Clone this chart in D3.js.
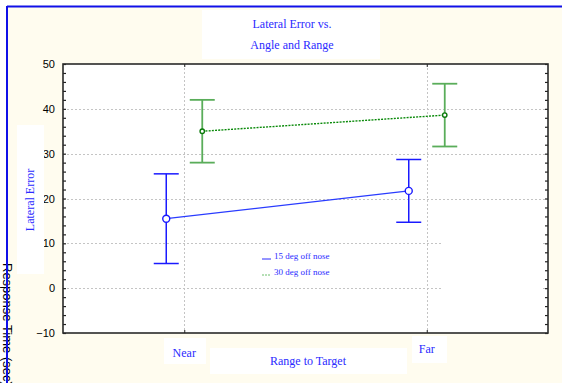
<!DOCTYPE html>
<html>
<head>
<meta charset="utf-8">
<script src="https://cdn.jsdelivr.net/npm/d3@7"></script>
<style>
  html, body { margin: 0; padding: 0; background: #ffffff; }
  svg { display: block; }
</style>
</head>
<body>
<svg id="chart" width="562" height="383"></svg>
<script>
// Range categories and the two angle conditions
const categories = ["Near", "Far"];
const seriesNames = ["15 deg off nose", "30 deg off nose"];
// Mean lateral error per range, and the half-width of each error bar
const means15 = [15.5, 21.7];
const errors15 = [10.0, 7.0];
const means30 = [35.0, 38.6];
const errors30 = [7.0, 7.0];
const yTicks = [-10, 0, 10, 20, 30, 40, 50];

const svg = d3.select("#chart");
const W = 562, H = 383;
const plot = { left: 63, right: 548, top: 64, bottom: 333 };
const serif = "'Liberation Serif', 'Times New Roman', serif";
const sans = "'Liberation Sans', Arial, sans-serif";
const blue = "#2b2bff";

// page background
svg.append("rect").attr("x", 0).attr("y", 0).attr("width", W).attr("height", H).attr("fill", "#ffffff");
svg.append("rect").attr("x", 7).attr("y", 6).attr("width", W).attr("height", H)
  .attr("fill", "#fffcef");

const x = d3.scalePoint().domain(categories).range([plot.left, plot.right]).padding(0.5);
const y = d3.scaleLinear().domain([-10, 50]).range([plot.bottom, plot.top]);

// plotting area
svg.append("rect").attr("x", plot.left).attr("y", plot.top)
  .attr("width", plot.right - plot.left).attr("height", plot.bottom - plot.top)
  .attr("fill", "#ffffff");

// grid
const grid = svg.append("g").attr("stroke", "#c4c4c4").attr("stroke-width", 1)
  .attr("stroke-dasharray", "2,2");
grid.selectAll("line.h").data(yTicks.filter(t => t > -10 && t < 50)).join("line")
  .attr("x1", plot.left).attr("x2", plot.right)
  .attr("y1", d => Math.round(y(d)) + 0.5).attr("y2", d => Math.round(y(d)) + 0.5);
grid.selectAll("line.v").data(categories).join("line")
  .attr("x1", d => Math.round(x(d)) + 0.5).attr("x2", d => Math.round(x(d)) + 0.5)
  .attr("y1", plot.top).attr("y2", plot.bottom);

// blank panel lying over the lower right of the grid
svg.append("rect").attr("x", 443).attr("y", 228).attr("width", 100).attr("height", 70)
  .attr("fill", "#ffffff");

// axes: labelled left axis with inward minor ticks, mirrored on the right
const minor = d3.range(-10, 50.001, 2);
const leftAxis = svg.append("g").attr("transform", `translate(${plot.left},0)`)
  .call(d3.axisLeft(y).tickValues(yTicks).tickSize(0).tickPadding(8).tickFormat(d3.format("d")));
leftAxis.select(".domain").remove();
leftAxis.selectAll("text").attr("font-family", sans).attr("font-size", 11).attr("fill", "#000");

svg.append("g").attr("transform", `translate(${plot.left},0)`)
  .call(d3.axisRight(y).tickValues(minor).tickSize(3).tickFormat(""))
  .call(g => g.select(".domain").remove())
  .selectAll("line").attr("stroke", "#222").attr("stroke-width", 1.2);
svg.append("g").attr("transform", `translate(${plot.right},0)`)
  .call(d3.axisLeft(y).tickValues(minor).tickSize(3).tickFormat(""))
  .call(g => g.select(".domain").remove())
  .selectAll("line").attr("stroke", "#222").attr("stroke-width", 1.2);
svg.append("g").attr("transform", `translate(0,${plot.bottom})`)
  .call(d3.axisTop(x).tickSize(3).tickFormat(""))
  .call(g => g.select(".domain").remove())
  .selectAll("line").attr("stroke", "#222");
svg.append("g").attr("transform", `translate(0,${plot.top})`)
  .call(d3.axisBottom(x).tickSize(3).tickFormat(""))
  .call(g => g.select(".domain").remove())
  .selectAll("line").attr("stroke", "#222");

// plot frame
svg.append("rect").attr("x", plot.left).attr("y", plot.top)
  .attr("width", plot.right - plot.left).attr("height", plot.bottom - plot.top)
  .attr("fill", "none").attr("stroke", "#2a2a2a").attr("stroke-width", 1.6);

// series
const series = [
  { name: seriesNames[0], means: means15, errs: errors15, dx: -18,
    line: "#2a3cff", bar: "#1a1aff", barW: 1.5, dash: null, lw: 1.3, r: 3.5, mark: "#1a1aff" },
  { name: seriesNames[1], means: means30, errs: errors30, dx: 18,
    line: "#0a8a0a", bar: "#5aad5a", barW: 1.8, dash: "2,1.2", lw: 1.4, r: 2.2, mark: "#0a7a0a" }
];
const cap = 12.5;
series.forEach(s => {
  const pts = categories.map((c, i) => ({ cx: x(c) + s.dx, m: s.means[i], e: s.errs[i] }));
  const g = svg.append("g");
  const eb = g.selectAll("g.eb").data(pts).join("g").attr("stroke", s.bar).attr("stroke-width", s.barW);
  eb.append("line").attr("x1", d => d.cx).attr("x2", d => d.cx)
    .attr("y1", d => y(d.m + d.e)).attr("y2", d => y(d.m - d.e));
  eb.append("line").attr("x1", d => d.cx - cap).attr("x2", d => d.cx + cap)
    .attr("y1", d => y(d.m + d.e)).attr("y2", d => y(d.m + d.e));
  eb.append("line").attr("x1", d => d.cx - cap).attr("x2", d => d.cx + cap)
    .attr("y1", d => y(d.m - d.e)).attr("y2", d => y(d.m - d.e));
  g.append("path").datum(pts)
    .attr("d", d3.line().x(d => d.cx).y(d => y(d.m)))
    .attr("fill", "none").attr("stroke", s.line).attr("stroke-width", s.lw)
    .attr("stroke-dasharray", s.dash);
  g.selectAll("circle").data(pts).join("circle")
    .attr("cx", d => d.cx).attr("cy", d => y(d.m)).attr("r", s.r)
    .attr("fill", "#ffffff").attr("stroke", s.mark).attr("stroke-width", 1.4);
});

// legend
const legend = svg.append("g");
[{ y: 256, s: series[0] }, { y: 272, s: series[1] }].forEach(item => {
  legend.append("line").attr("x1", 262).attr("x2", 271)
    .attr("y1", item.y + 3).attr("y2", item.y + 3)
    .attr("stroke", item.s === series[0] ? blue : "#6cbf6c")
    .attr("stroke-width", 1).attr("stroke-dasharray", item.s === series[0] ? null : "2,1");
  legend.append("text").attr("x", 274).attr("y", item.y + 3)
    .attr("font-family", serif).attr("font-size", 9).attr("fill", blue)
    .text(item.s.name);
});

// title panel
svg.append("rect").attr("x", 202).attr("y", 10).attr("width", 178).attr("height", 49).attr("fill", "#ffffff");
svg.append("text").attr("x", 292).attr("y", 28).attr("text-anchor", "middle")
  .attr("font-family", serif).attr("font-size", 12).attr("fill", blue).text("Lateral Error vs.");
svg.append("text").attr("x", 292).attr("y", 49).attr("text-anchor", "middle")
  .attr("font-family", serif).attr("font-size", 12).attr("fill", blue).text("Angle and Range");

// category labels on white panels
const catBoxes = { Near: { x: 164, y: 338, w: 42, h: 26, ty: 357 }, Far: { x: 412, y: 336, w: 35, h: 27, ty: 353 } };
categories.forEach(c => {
  const b = catBoxes[c];
  svg.append("rect").attr("x", b.x).attr("y", b.y).attr("width", b.w).attr("height", b.h).attr("fill", "#ffffff");
  svg.append("text").attr("x", x(c)).attr("y", b.ty).attr("text-anchor", "middle")
    .attr("font-family", serif).attr("font-size", 12).attr("fill", blue).text(c);
});

// x axis title
svg.append("rect").attr("x", 210).attr("y", 348).attr("width", 197).attr("height", 26).attr("fill", "#ffffff");
svg.append("text").attr("x", 308).attr("y", 365).attr("text-anchor", "middle")
  .attr("font-family", serif).attr("font-size", 12).attr("fill", blue).text("Range to Target");

// y axis title
svg.append("rect").attr("x", 17).attr("y", 125).attr("width", 27).attr("height", 149).attr("fill", "#ffffff");
svg.append("text").attr("transform", "translate(34,200) rotate(-90)").attr("text-anchor", "middle")
  .attr("font-family", serif).attr("font-size", 12).attr("fill", blue).text("Lateral Error");

// secondary axis title running down the left edge, partly under the frame
svg.append("text").attr("transform", "translate(3,263) rotate(90)").attr("text-anchor", "start")
  .attr("font-family", sans).attr("font-size", 13).attr("fill", "#000").text("Response Time (sec)");

// outer frame
svg.append("line").attr("x1", 7).attr("x2", W).attr("y1", 6.5).attr("y2", 6.5)
  .attr("stroke", "#1010e8").attr("stroke-width", 2);
svg.append("line").attr("x1", 7).attr("x2", 7).attr("y1", 6).attr("y2", H)
  .attr("stroke", "#1010e8").attr("stroke-width", 2);
</script>
</body>
</html>
